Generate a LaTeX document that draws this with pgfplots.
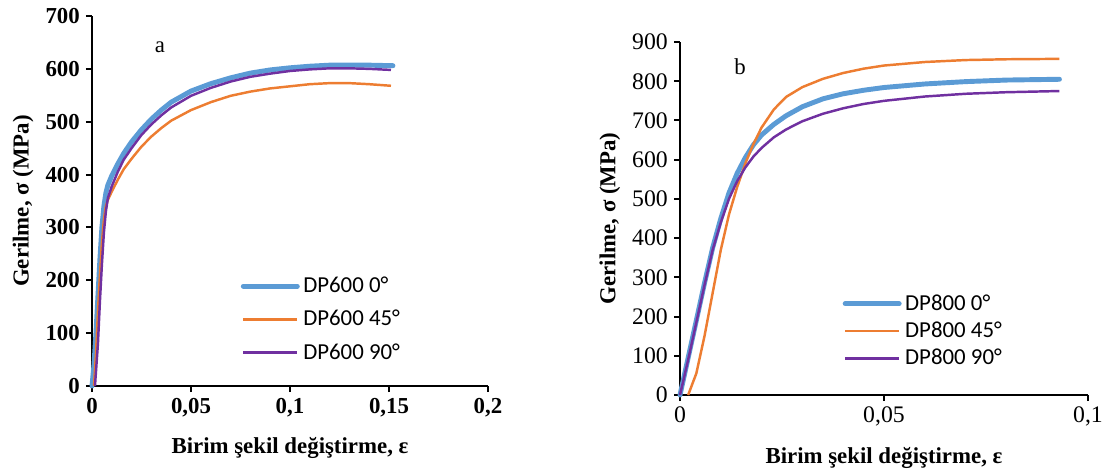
\documentclass[border=0pt]{standalone}
\usepackage{pgfplots}
\pgfplotsset{compat=1.18}
\usepackage{fontspec}
\setmainfont{Liberation Serif}
\newfontfamily\legfont{Carlito}
\definecolor{cBlue}{HTML}{5B9BD5}
\definecolor{cOrange}{HTML}{ED7D31}
\definecolor{cPurple}{HTML}{7030A0}

\pgfplotsset{
  common/.style={
    scale only axis,
    axis lines=left,
    axis line style={-, line width=1.3pt},
    tick align=outside,
    tick pos=left,
    major tick length=0.12cm,
    every tick/.style={black, line width=1.1pt},
    xmin=0, ymin=0,
    enlargelimits=false,
    clip=false,
    /pgf/number format/.cd, use comma, fixed, 1000 sep={}, assume math mode=true,
    /pgfplots/.cd,
    label style={font=\fontsize{13}{15}\selectfont\bfseries},
    xlabel style={yshift=-0.17cm},
    legend style={draw=none, fill=none, font=\legfont\fontsize{13}{14}\selectfont,
      inner sep=0pt, cells={anchor=west}},
    legend image code/.code={\draw[##1] (0cm,0cm) -- (1.08cm,0cm);},
  },
}

\begin{document}
\begin{tikzpicture}
\useasboundingbox (0,0) rectangle (22.28,-9.44);

% panel a: DP600
\begin{axis}[common,
  at={(1.84cm,-7.72cm)}, anchor=south west,
  width=7.92cm, height=7.4cm,
  xmax=0.2, ymax=700,
  xtick={0,0.05,0.1,0.15,0.2},
  ytick={0,100,...,700},
  tick label style={font=\fontsize{13}{15}\selectfont\bfseries},
  xlabel={Birim şekil değiştirme, ε},
  ylabel={Gerilme, σ (MPa)},
  legend style={at={(0.375,0.305)}, anchor=north west, row sep=1.6mm},
]
\addplot[cBlue, line width=2.8pt, line cap=round] coordinates {
(0,0)(0.001,40)(0.002,100)(0.003,170)(0.004,240)(0.005,300)(0.006,340)(0.007,365)(0.008,380)
(0.01,398)(0.013,420)(0.016,440)(0.02,462)(0.025,485)(0.03,505)(0.035,522)(0.04,537)(0.05,558)
(0.06,572)(0.07,583)(0.08,592)(0.09,598)(0.1,602)(0.11,605)(0.12,607)(0.13,607)(0.14,607)(0.152,606)
};
\addplot[cOrange, line width=1.4pt] coordinates {
(0.001,0)(0.002,60)(0.003,140)(0.004,210)(0.005,270)(0.006,315)(0.007,340)(0.008,352)
(0.01,368)(0.013,390)(0.016,410)(0.02,430)(0.025,453)(0.03,472)(0.035,488)(0.04,502)(0.05,522)
(0.06,537)(0.07,549)(0.08,557)(0.09,563)(0.1,567)(0.11,571)(0.12,573)(0.13,573)(0.14,571)(0.151,568)
};
\addplot[cPurple, line width=1.4pt] coordinates {
(0.0015,0)(0.003,80)(0.004,160)(0.005,230)(0.006,290)(0.007,330)(0.008,355)
(0.01,378)(0.013,405)(0.016,428)(0.02,450)(0.025,475)(0.03,495)(0.035,512)(0.04,527)(0.05,549)
(0.06,564)(0.07,576)(0.08,585)(0.09,591)(0.1,596)(0.11,599)(0.12,601)(0.13,601)(0.14,600)(0.151,598)
};
\legend{DP600 0°, DP600 45°, DP600 90°}
\node[font=\fontsize{13}{15}\selectfont] at (axis cs:0.0343,640) {a};
\end{axis}

% panel b: DP800
\begin{axis}[common,
  at={(13.6cm,-7.9cm)}, anchor=south west,
  width=8.16cm, height=7.06cm,
  xmax=0.1, ymax=900,
  xtick={0,0.05,0.1},
  ytick={0,100,...,900},
  tick label style={font=\fontsize{13.5}{15}\selectfont},
  xlabel={Birim şekil değiştirme, ε},
  ylabel={Gerilme, σ (MPa)},
  legend style={at={(0.398,0.295)}, anchor=north west, row sep=0.4mm},
]
\addplot[cBlue, line width=2.8pt, line cap=round] coordinates {
(0,0)(0.002,95)(0.004,190)(0.006,285)(0.008,375)(0.01,450)(0.012,515)(0.014,565)(0.016,605)
(0.018,638)(0.02,663)(0.023,690)(0.026,712)(0.03,735)(0.035,755)(0.04,768)(0.045,777)(0.05,784)
(0.06,793)(0.07,799)(0.08,803)(0.093,805)
};
\addplot[cOrange, line width=1.4pt] coordinates {
(0.002,0)(0.004,55)(0.006,150)(0.008,260)(0.01,370)(0.012,460)(0.014,530)(0.016,590)
(0.018,640)(0.02,682)(0.023,728)(0.026,760)(0.03,785)(0.035,806)(0.04,821)(0.045,832)(0.05,840)
(0.06,849)(0.07,854)(0.08,856)(0.093,857)
};
\addplot[cPurple, line width=1.4pt] coordinates {
(0,0)(0.002,90)(0.004,185)(0.006,280)(0.008,370)(0.01,440)(0.012,500)(0.014,545)(0.016,580)
(0.018,608)(0.02,630)(0.023,657)(0.026,677)(0.03,698)(0.035,717)(0.04,731)(0.045,742)(0.05,750)
(0.06,761)(0.07,768)(0.08,772)(0.093,775)
};
\legend{DP800 0°, DP800 45°, DP800 90°}
\node[font=\fontsize{13}{15}\selectfont] at (axis cs:0.0147,838) {b};
\end{axis}
\end{tikzpicture}
\end{document}
